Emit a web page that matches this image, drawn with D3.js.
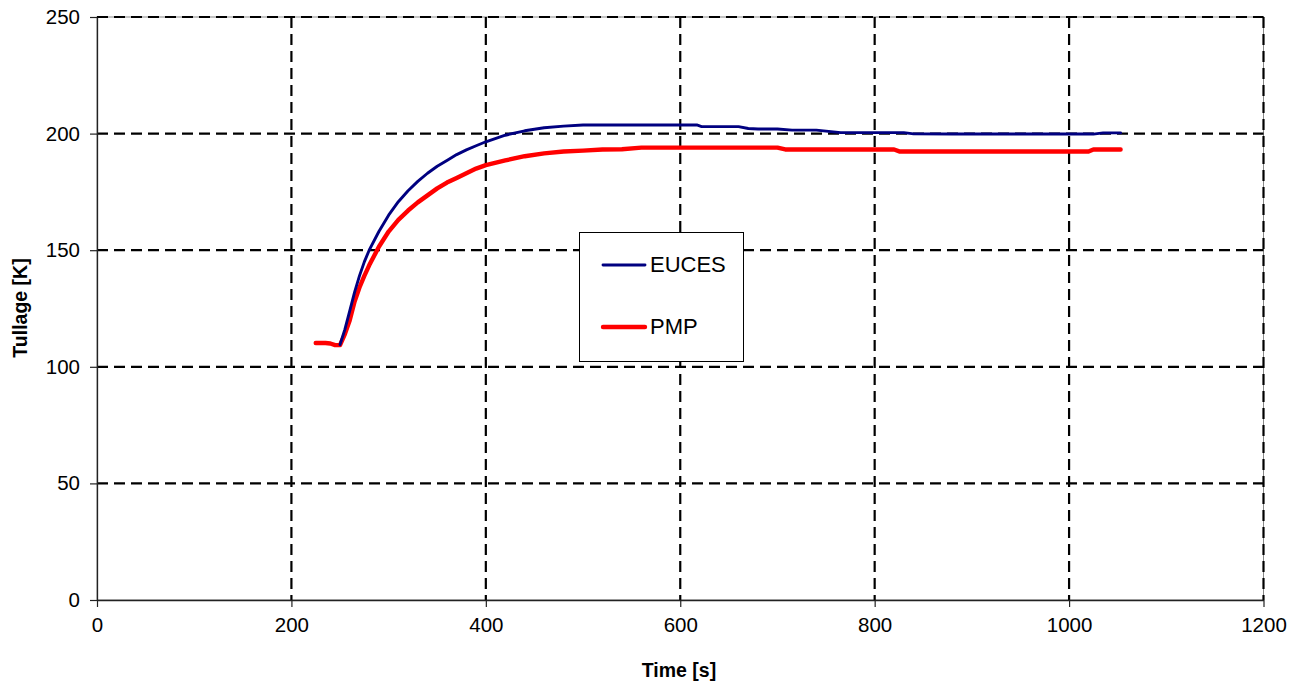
<!DOCTYPE html>
<html>
<head>
<meta charset="utf-8">
<script src="https://cdn.jsdelivr.net/npm/d3@7"></script>
<style>
	body { margin: 0; background: #fff; }
	text { font-family: Arial, "Liberation Sans", sans-serif; }
</style>
</head>
<body>
<div class="chart"></div>
<script>
// data
var timeE = [250, 255, 260, 265, 270, 275, 280, 290, 300, 310, 320, 330, 340, 350, 360, 370, 380, 390, 400,
			 420, 440, 460, 480, 500, 520, 540, 560, 580, 600, 617, 622, 640, 660, 670, 680, 700, 715, 740,
			 765, 780, 800, 830, 840, 880, 920, 960, 1000, 1025, 1035, 1053];
var euces = [109.5, 116, 124, 132, 139, 145, 150, 158, 165, 170.8, 175.5, 179.5, 183, 186, 188.5, 191, 193, 194.8, 196.5,
			 199.3, 201.2, 202.5, 203.2, 203.7, 203.7, 203.7, 203.7, 203.7, 203.7, 203.7, 203.0, 203.0, 203.0, 202.2, 202.0, 202.0, 201.5, 201.5,
			 200.4, 200.4, 200.4, 200.4, 199.9, 199.8, 199.8, 199.8, 199.8, 199.8, 200.3, 200.3];

var timeP = [225, 230, 235, 240, 245, 250, 255, 260, 265, 270, 275, 280, 290, 300, 310, 320, 330, 340, 350, 360,
			 370, 380, 390, 400, 420, 440, 460, 480, 500, 520, 540, 560, 580, 620, 660, 700, 708, 740, 780, 820,
			 826, 860, 900, 940, 980, 1020, 1025, 1040, 1053];
var pmp = [110.2, 110.2, 110.2, 110.0, 109.3, 109.3, 114, 120, 128, 134, 139, 143.5, 151.5, 158, 163, 167, 170.5, 173.5, 176.5, 179,
		   181, 183, 185, 186.5, 188.5, 190.3, 191.5, 192.3, 192.7, 193.2, 193.3, 194.0, 194.0, 194.0, 194.0, 194.0, 193.2, 193.2, 193.2, 193.2,
		   192.3, 192.3, 192.3, 192.3, 192.3, 192.3, 193.2, 193.2, 193.2];

var xTicks = [0, 200, 400, 600, 800, 1000, 1200];
var yTicks = [0, 50, 100, 150, 200, 250];
var seriesNames = ["EUCES", "PMP"];
var seriesColors = ["#000080", "#ff0000"];

var W = 1302, H = 686;
var pLeft = 97, pRight = 1263.5, pTop = 17, pBottom = 600;

var svg = d3.select(".chart")
			.append("svg")
			.attr("width", W)
			.attr("height", H);

var x = d3.scaleLinear().domain([0, 1200]).range([pLeft, pRight]);
var y = d3.scaleLinear().domain([0, 250]).range([pBottom, pTop]);

// plot frame (thin gray)
svg.append("rect")
   .attr("x", pLeft).attr("y", pTop)
   .attr("width", pRight - pLeft).attr("height", pBottom - pTop)
   .style("fill", "none")
   .style("stroke", "#888")
   .style("stroke-width", 1);

// dashed grid
svg.append("g").selectAll("line")
   .data(yTicks.filter(function(d) { return d > 0; }))
   .enter().append("line")
   .attr("x1", pLeft).attr("x2", pRight)
   .attr("y1", function(d) { return y(d); })
   .attr("y2", function(d) { return y(d); })
   .style("stroke", "#000")
   .style("stroke-width", 2.2)
   .style("stroke-dasharray", "11,6");

svg.append("g").selectAll("line")
   .data(xTicks.filter(function(d) { return d > 0; }))
   .enter().append("line")
   .attr("y1", pTop).attr("y2", pBottom)
   .attr("x1", function(d) { return x(d); })
   .attr("x2", function(d) { return x(d); })
   .style("stroke", "#000")
   .style("stroke-width", 2.2)
   .style("stroke-dasharray", "11,6");

// axes
var xAxis = svg.append("g")
			   .attr("transform", "translate(0," + pBottom + ")")
			   .call(d3.axisBottom(x).tickValues(xTicks).tickFormat(d3.format("d"))
			   		.tickSize(7).tickPadding(10).tickSizeOuter(0));
var yAxis = svg.append("g")
			   .attr("transform", "translate(" + pLeft + ",0)")
			   .call(d3.axisLeft(y).tickValues(yTicks).tickFormat(d3.format("d"))
			   		.tickSize(7).tickPadding(10).tickSizeOuter(0));

[xAxis, yAxis].forEach(function(a) {
	a.select(".domain").style("stroke", "#222").style("stroke-width", 1.3);
	a.selectAll(".tick line").style("stroke", "#222").style("stroke-width", 1.2);
	a.selectAll("text").style("font-size", "20.5px").style("fill", "#000")
	 .style("font-family", "Arial, 'Liberation Sans', sans-serif");
});

// lines
var lineE = d3.line()
			  .x(function(d, i) { return x(timeE[i]); })
			  .y(function(d) { return y(d); });
var lineP = d3.line()
			  .x(function(d, i) { return x(timeP[i]); })
			  .y(function(d) { return y(d); });

svg.append("path")
   .datum(pmp)
   .attr("d", lineP)
   .style("fill", "none")
   .style("stroke", seriesColors[1])
   .style("stroke-width", 4.4)
   .style("stroke-linejoin", "round")
   .style("stroke-linecap", "round");

svg.append("path")
   .datum(euces)
   .attr("d", lineE)
   .style("fill", "none")
   .style("stroke", seriesColors[0])
   .style("stroke-width", 2.9)
   .style("stroke-linejoin", "round")
   .style("stroke-linecap", "round");

// axis titles
svg.append("text")
   .attr("x", 679).attr("y", 677)
   .attr("text-anchor", "middle")
   .style("font-size", "19.5px").style("font-weight", "bold")
   .text("Time [s]");

svg.append("text")
   .attr("transform", "translate(27,308) rotate(-90)")
   .attr("text-anchor", "middle")
   .style("font-size", "19.5px").style("font-weight", "bold")
   .text("Tullage [K]");

// legend
var legend = svg.append("g");
legend.append("rect")
	  .attr("x", 579.5).attr("y", 232.5)
	  .attr("width", 164).attr("height", 129)
	  .style("fill", "#fff")
	  .style("stroke", "#000")
	  .style("stroke-width", 1);

var legendY = [265, 327];
var legendW = [2.9, 4.4];
seriesNames.forEach(function(name, i) {
	legend.append("line")
		  .attr("x1", 603).attr("x2", 645)
		  .attr("y1", legendY[i]).attr("y2", legendY[i])
		  .style("stroke", seriesColors[i])
		  .style("stroke-width", legendW[i])
		  .style("stroke-linecap", "round");
	legend.append("text")
		  .attr("x", 650).attr("y", legendY[i] + 7)
		  .style("font-size", "22px")
		  .text(name);
});
</script>
</body>
</html>
